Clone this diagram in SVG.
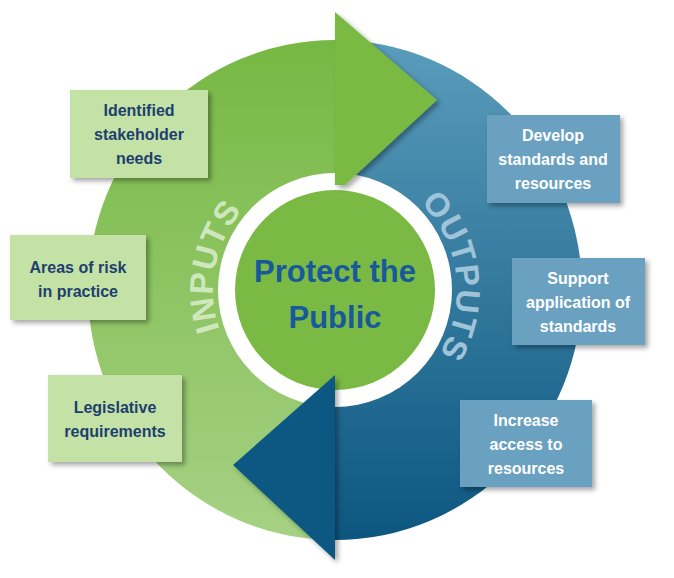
<svg xmlns="http://www.w3.org/2000/svg" width="674" height="578" viewBox="0 0 674 578">
<defs>
<linearGradient id="gg" x1="0" y1="0" x2="0" y2="1"><stop offset="0" stop-color="#76b843"/><stop offset="1" stop-color="#a6d184"/></linearGradient>
<linearGradient id="bg" x1="0" y1="0" x2="0" y2="1"><stop offset="0" stop-color="#5a9cbb"/><stop offset="1" stop-color="#0c5680"/></linearGradient>
<filter id="sh" x="-20%" y="-20%" width="140%" height="140%"><feDropShadow dx="3" dy="3" stdDeviation="2.5" flood-color="#000" flood-opacity="0.35"/></filter>
<path id="pin" d="M255,382.1 A122,122 0 0 1 295.3,174.6"/>
<path id="pout" d="M382.7,177.7 A122,122 0 0 1 408.4,387.4"/>
<style>
.gb{fill:#c4e1a6;filter:url(#sh)}
.bb{fill:#6aa1c0;filter:url(#sh)}
.gt{font-family:"Liberation Sans",Arial,sans-serif;font-weight:bold;font-size:16px;fill:#1d3f6e;text-anchor:middle}
.bt{font-family:"Liberation Sans",Arial,sans-serif;font-weight:bold;font-size:16px;fill:#fff;text-anchor:middle}
.arc{font-family:"Liberation Sans",Arial,sans-serif;font-weight:bold;font-size:33px;letter-spacing:1px}
</style>
</defs>
<g id="ring">
<path d="M335,40 A247,250 0 0 0 335,540 Z" fill="url(#gg)"/>
<path d="M335,40 A247,250 0 0 1 335,540 Z" fill="url(#bg)"/>
<circle cx="335" cy="290" r="117" fill="#fff"/>
<circle cx="335" cy="290" r="100" fill="#7ab943"/>
<polygon points="335,12 437,100 345,185 335,185" fill="#7ab943" filter="url(#sh)"/>
<polygon points="335,375 233,465 335,560" fill="#0e5982" filter="url(#sh)"/>
<text class="arc" fill="#d9ecca" fill-opacity="0.9"><textPath href="#pin" startOffset="50%" text-anchor="middle">INPUTS</textPath></text>
<text class="arc" fill="#9fc3d8"><textPath href="#pout" startOffset="50%" text-anchor="middle">OUTPUTS</textPath></text>
</g>
<g id="center"><text font-family="'Liberation Sans',Arial,sans-serif" font-weight="bold" font-size="31" fill="#17599a" text-anchor="middle"><tspan x="335" y="282">Protect the</tspan><tspan x="335" y="328">Public</tspan></text></g>
<g id="n1"><rect class="gb" x="70" y="90" width="138" height="88"/><text class="gt"><tspan x="139" y="116">Identified</tspan><tspan x="139" y="140">stakeholder</tspan><tspan x="139" y="164">needs</tspan></text></g>
<g id="n2"><rect class="gb" x="10" y="235" width="136" height="85"/><text class="gt"><tspan x="78" y="273">Areas of risk</tspan><tspan x="78" y="297">in practice</tspan></text></g>
<g id="n3"><rect class="gb" x="48" y="375" width="134" height="87"/><text class="gt"><tspan x="115" y="413">Legislative</tspan><tspan x="115" y="437">requirements</tspan></text></g>
<g id="n4"><rect class="bb" x="487" y="115" width="133" height="88"/><text class="bt"><tspan x="553" y="141">Develop</tspan><tspan x="553" y="165">standards and</tspan><tspan x="553" y="189">resources</tspan></text></g>
<g id="n5"><rect class="bb" x="512" y="258" width="133" height="87"/><text class="bt"><tspan x="578" y="284">Support</tspan><tspan x="578" y="308">application of</tspan><tspan x="578" y="332">standards</tspan></text></g>
<g id="n6"><rect class="bb" x="460" y="400" width="132" height="87"/><text class="bt"><tspan x="526" y="426">Increase</tspan><tspan x="526" y="450">access to</tspan><tspan x="526" y="474">resources</tspan></text></g>
<g id="connectors"/>
</svg>
